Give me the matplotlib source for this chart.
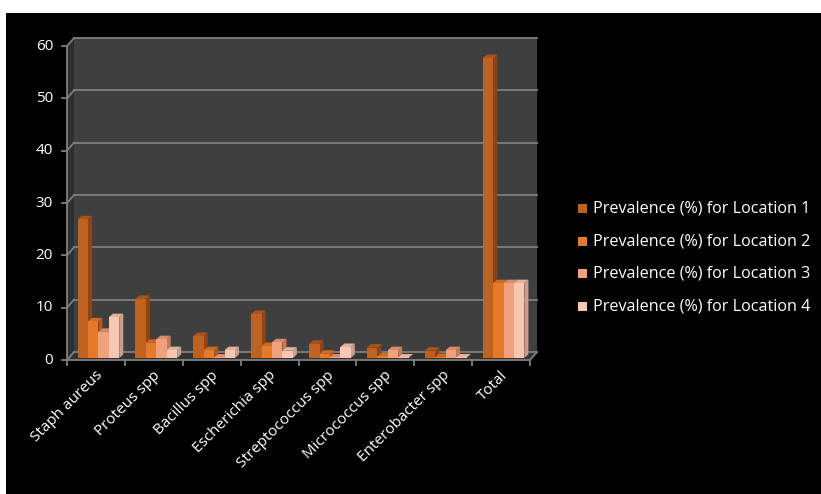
import numpy as np
import matplotlib.pyplot as plt
from matplotlib.patches import Polygon, Rectangle

# prevalence (%) per organism and location
categories = ['Staph aureus', 'Proteus spp', 'Bacillus spp', 'Escherichia spp',
              'Streptococcus spp', 'Micrococcus spp', 'Enterobacter spp', 'Total']
loc1 = [26.5, 11.3, 4.2, 8.4, 2.7, 2.0, 1.4, 57.3]
loc2 = [7.0, 2.9, 1.5, 2.3, 0.8, 0.3, 0.2, 14.3]
loc3 = [5.0, 3.6, 0.1, 3.0, 0.1, 1.5, 1.5, 14.3]
loc4 = [7.8, 1.5, 1.5, 1.4, 2.1, 0.1, 0.1, 14.3]
series = [loc1, loc2, loc3, loc4]
labels = ['Prevalence (%%) for Location %d' % (k + 1) for k in range(4)]

front = ['#c0621f', '#e57a2b', '#f0a07c', '#f8c7b2']
side = ['#8e4414', '#b05a1d', '#c27b5c', '#c99e8c']
top = ['#a9541a', '#cc6b24', '#d98c6b', '#e3b3a0']

W, H = 821, 494
fig = plt.figure(figsize=(W / 100, H / 100), dpi=100, facecolor='white')
# black chart area
fig.patches.append(Rectangle((6 / W, 0), 1, 1 - 13 / H, transform=fig.transFigure,
                             facecolor='black', edgecolor='none', zorder=-5))

x0, x1, y0, y1 = 67, 530, 360, 46
ax = fig.add_axes([x0 / W, (H - y0) / H, (x1 - x0) / W, (y0 - y1) / H])
ax.set_xlim(-0.5, len(categories) - 0.5)
ax.set_ylim(0, 60)
ax.axis('off')

# pixel -> data units
px_x = (len(categories)) / (x1 - x0)
px_y = 60 / (y0 - y1)
dx, dy = 7 * px_x, 8 * px_y          # wall depth
xmin, xmax = -0.5, len(categories) - 0.5

wall_c, side_c, floor_c, grid_c = '#3f3f3f', '#2e2e2e', '#333333', '#7f7f7f'
kw = dict(clip_on=False)
ax.add_patch(Polygon([(xmin + dx, dy), (xmax + dx, dy), (xmax + dx, 60 + dy), (xmin + dx, 60 + dy)],
                     facecolor=wall_c, edgecolor='none', zorder=1, **kw))
ax.add_patch(Polygon([(xmin, 0), (xmin + dx, dy), (xmin + dx, 60 + dy), (xmin, 60)],
                     facecolor=side_c, edgecolor='none', zorder=1, **kw))
ax.add_patch(Polygon([(xmin, 0), (xmax, 0), (xmax + dx, dy), (xmin + dx, dy)],
                     facecolor=floor_c, edgecolor='none', zorder=1, **kw))

for v in range(0, 61, 10):
    ax.plot([xmin + dx, xmax + dx], [v + dy, v + dy], color=grid_c, lw=1.3, zorder=2, **kw)
    ax.plot([xmin, xmin + dx], [v, v + dy], color=grid_c, lw=1.3, zorder=2, **kw)
    ax.plot([xmin - 5 * px_x, xmin], [v, v], color=grid_c, lw=1.3, zorder=2, **kw)
    ax.text(xmin - 14 * px_x, v, str(v), color='white', ha='right', va='center',
            fontsize=11, family='Open Sans', **kw)

# axis lines
ax.plot([xmin, xmin], [0, 60], color=grid_c, lw=1.3, zorder=2, **kw)
ax.plot([xmin, xmax], [0, 0], color=grid_c, lw=1.3, zorder=6, **kw)
ax.plot([xmax, xmax + dx], [0, dy], color=grid_c, lw=1.3, zorder=6, **kw)
for b in np.arange(xmin, xmax + 0.01, 1):
    ax.plot([b, b], [0, -5 * px_y], color=grid_c, lw=1.3, zorder=6, **kw)

# 3D-style columns
w = 0.18
ox, oy = 2.5 * px_x, 2 * px_y       # columns sit partly inside the depth
bx, by = 4 * px_x, 3.5 * px_y       # column depth
for j, vals in enumerate(series):
    for i, v in enumerate(vals):
        l = i - 2 * w + j * w + ox
        r = l + w
        b = oy
        t = oy + v
        z = 3 + j * 0.01
        ax.add_patch(Polygon([(r, b), (r + bx, b + by), (r + bx, t + by), (r, t)],
                             facecolor=side[j], edgecolor='none', zorder=z, **kw))
        ax.add_patch(Polygon([(l, t), (r, t), (r + bx, t + by), (l + bx, t + by)],
                             facecolor=top[j], edgecolor='none', zorder=z, **kw))
        ax.add_patch(Rectangle((l, b), w, v, facecolor=front[j], edgecolor='none',
                               zorder=z + 0.005, **kw))

for i, c in enumerate(categories):
    ax.text(i - 0.02, -8 * px_y, c, color='white', rotation=45, ha='right', va='top',
            rotation_mode='anchor', fontsize=11, family='Open Sans', **kw)

# legend
for j, lab in enumerate(labels):
    yy = 1 - (208.5 + j * 32.7) / H
    fig.patches.append(Rectangle((578 / W, yy - 4.5 / H), 9 / W, 9 / H, transform=fig.transFigure,
                                 facecolor=front[j], edgecolor='none', zorder=5))
    fig.text(593 / W, yy, lab, color='white', va='center', ha='left', fontsize=11.6,
             family='Open Sans')

fig.savefig('out.png', dpi=100, facecolor=fig.get_facecolor())
